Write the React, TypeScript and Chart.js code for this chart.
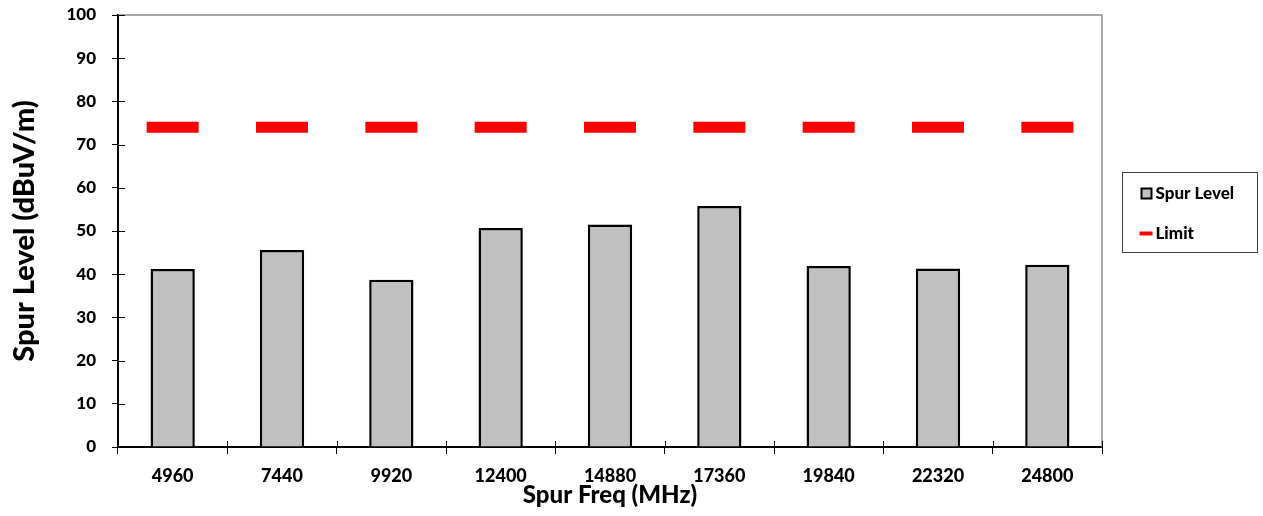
import React, { useEffect, useRef } from "react";
import { Chart, registerables } from "chart.js";

Chart.register(...registerables);

const categories = ["4960", "7440", "9920", "12400", "14880", "17360", "19840", "22320", "24800"];
const spurLevel = [41.2, 45.6, 38.7, 50.7, 51.5, 55.8, 41.9, 41.3, 42.2];
const limitLevel = [74, 74, 74, 74, 74, 74, 74, 74, 74];
const yMin = 0;
const yMax = 100;
const yStep = 10;

const FONT = "Lato, 'Open Sans', 'DejaVu Sans', sans-serif";
const W = 900;

const framePlugin = {
  id: "frame",
  afterDraw(chart: any) {
    const { ctx, chartArea: a, scales } = chart;
    ctx.save();
    ctx.strokeStyle = "#8a8a8a";
    ctx.lineWidth = 1.5;
    ctx.beginPath();
    ctx.moveTo(a.left, a.top);
    ctx.lineTo(a.right, a.top);
    ctx.lineTo(a.right, a.bottom);
    ctx.stroke();
    ctx.strokeStyle = "#000";
    ctx.lineWidth = 1;
    const ys = scales.y;
    ys.ticks.forEach((t: any) => {
      const py = Math.round(ys.getPixelForValue(t.value)) + 0.5;
      ctx.beginPath();
      ctx.moveTo(a.left, py);
      ctx.lineTo(a.left + 7, py);
      ctx.stroke();
    });
    const xs = scales.x;
    const n = xs.ticks.length;
    for (let i = 0; i <= n; i++) {
      const px = Math.round(xs.left + ((xs.right - xs.left) * i) / n) + 0.5;
      ctx.beginPath();
      ctx.moveTo(px, a.bottom);
      ctx.lineTo(px, a.bottom - 6);
      ctx.stroke();
    }
    ctx.restore();
  },
};

const legendPlugin = {
  id: "customLegend",
  afterDraw(chart: any) {
    const { ctx, chartArea: a } = chart;
    const ds = chart.data.datasets;
    const bx = a.right + 20.5;
    const by = 172.5;
    ctx.save();
    ctx.strokeStyle = "#404040";
    ctx.lineWidth = 1;
    ctx.strokeRect(bx, by, 135, 80);
    ctx.font = `${W} 17px ${FONT}`;
    ctx.textBaseline = "middle";
    ctx.textAlign = "left";
    // bar item
    ctx.fillStyle = ds[0].backgroundColor;
    ctx.fillRect(bx + 19, by + 16, 10, 10);
    ctx.strokeStyle = ds[0].borderColor;
    ctx.lineWidth = 2;
    ctx.strokeRect(bx + 19, by + 16, 10, 10);
    ctx.fillStyle = "#000";
    ctx.fillText(ds[0].label, bx + 33, by + 21);
    // line item
    ctx.strokeStyle = ds[1].pointBorderColor;
    ctx.lineWidth = 4;
    ctx.beginPath();
    ctx.moveTo(bx + 17, by + 61);
    ctx.lineTo(bx + 30, by + 61);
    ctx.stroke();
    ctx.fillStyle = "#000";
    ctx.fillText(ds[1].label, bx + 33, by + 61);
    ctx.restore();
  },
};

export default function App() {
  const ref = useRef<HTMLCanvasElement>(null);
  useEffect(() => {
    if (!ref.current) return;
    const chart = new Chart(ref.current, {
      type: "bar",
      data: {
        labels: categories,
        datasets: [
          {
            type: "bar",
            label: "Spur Level",
            data: spurLevel,
            backgroundColor: "#C0C0C0",
            borderColor: "#000000",
            borderWidth: 2.5,
            categoryPercentage: 1,
            barPercentage: 0.405,
          } as any,
          {
            type: "line",
            label: "Limit",
            data: limitLevel,
            showLine: false,
            pointStyle: "line",
            pointRadius: 26,
            pointHoverRadius: 26,
            pointBorderWidth: 11,
            pointHoverBorderWidth: 11,
            pointBorderColor: "#FF0000",
            borderColor: "#FF0000",
            backgroundColor: "#FF0000",
          } as any,
        ],
      },
      options: {
        responsive: false,
        animation: false,
        layout: { autoPadding: false, padding: { top: 15, right: 161, left: 0, bottom: 0 } },
        plugins: { legend: { display: false }, tooltip: { enabled: false } },
        scales: {
          x: {
            grid: { drawOnChartArea: false, tickLength: 7, color: "#000", offset: true },
            border: { color: "#000", width: 2 },
            ticks: {
              color: "#000",
              font: { family: FONT, size: 18, weight: W },
              padding: 11,
              maxRotation: 0,
              autoSkip: false,
            },
            title: {
              display: true,
              text: "Spur Freq (MHz)",
              color: "#000",
              font: { family: FONT, size: 24, weight: W },
              padding: { top: 0, bottom: 6 },
            },
            afterFit(s: any) {
              s.height = 69;
              s.paddingLeft = 0;
              s.paddingRight = 0;
            },
          },
          y: {
            min: yMin,
            max: yMax,
            ticks: {
              stepSize: yStep,
              color: "#000",
              font: { family: FONT, size: 17, weight: W },
              padding: 16,
            },
            grid: { drawOnChartArea: false, tickLength: 6, color: "#000" },
            border: { color: "#000", width: 2 },
            title: {
              display: true,
              text: "Spur Level (dBuV/m)",
              color: "#000",
              font: { family: FONT, size: 29, weight: W },
              padding: { top: 7, bottom: 0 },
            },
            afterFit(s: any) {
              s.width = 118;
              s.paddingTop = 0;
              s.paddingBottom = 0;
            },
          },
        },
      } as any,
      plugins: [framePlugin, legendPlugin],
    });
    return () => chart.destroy();
  }, []);
  return (
    <div style={{ position: "absolute", left: 0, top: 0, width: 1263, height: 516 }}>
      <canvas ref={ref} width={1263} height={516} style={{ display: "block" }} />
    </div>
  );
}
